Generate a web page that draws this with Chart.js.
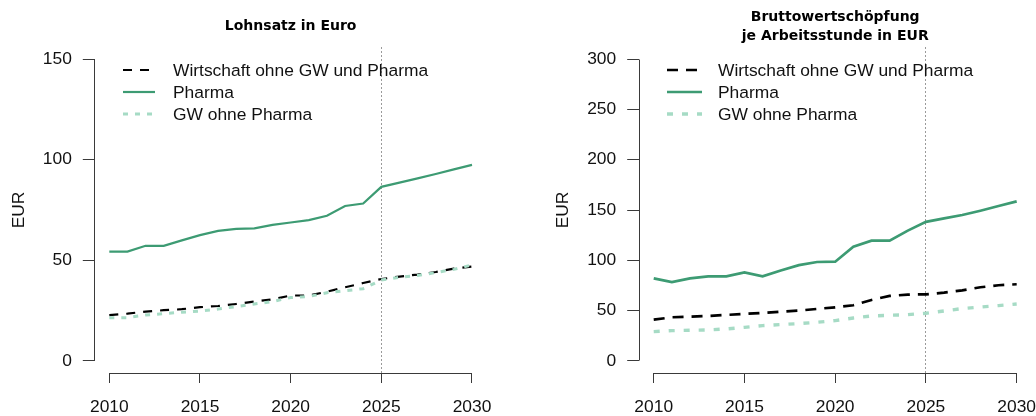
<!DOCTYPE html>
<html><head><meta charset="utf-8">
<script src="https://cdn.jsdelivr.net/npm/chart.js@4.4.1/dist/chart.umd.min.js"></script>
<style>
html,body{margin:0;padding:0;background:#fff;}
#wrap{position:relative;width:1036px;height:416px;overflow:hidden;}
.c{position:absolute;top:0;width:518px;height:416px;}
</style></head><body>
<div id="wrap">
<div class="c" style="left:0"><canvas id="c1"></canvas></div>
<div class="c" style="left:518px"><canvas id="c2"></canvas></div>
</div>
<script>
// ---- data ----
const years = [2010,2011,2012,2013,2014,2015,2016,2017,2018,2019,2020,2021,2022,2023,2024,2025,2026,2027,2028,2029,2030];
const xTicks = [2010,2015,2020,2025,2030];
const seriesLabels = ['Wirtschaft ohne GW und Pharma','Pharma','GW ohne Pharma'];
const projectionYear = 2025;
const yAxisTitle = 'EUR';

const lohnTitle = ['Lohnsatz in Euro'];
const lohnYTicks = [0,50,100,150];
const lohnWirtschaft = [22.8,23.5,24.5,25.2,25.7,26.7,27.3,28.3,29.5,30.6,32.5,32.5,34.4,36.6,38.7,40.7,41.9,42.9,44.2,45.9,46.9];
const lohnPharma     = [54.3,54.3,57.2,57.2,59.9,62.5,64.6,65.6,65.9,67.6,68.8,70.0,72.1,77.0,78.2,86.5,88.6,90.7,92.9,95.2,97.4];
const lohnGW         = [21.5,21.5,22.8,23.5,24.2,24.8,25.8,27.0,28.3,29.5,31.5,32.0,33.9,34.9,35.9,40.2,41.6,42.5,43.9,45.5,47.7];

const bwsTitle = ['Bruttowertschöpfung','je Arbeitsstunde in EUR'];
const bwsYTicks = [0,50,100,150,200,250,300];
const bwsWirtschaft = [41.0,43.4,44.0,44.7,45.7,46.7,47.7,49.0,50.0,51.7,53.3,55.3,60.6,64.6,65.9,66.2,67.9,70.2,73.2,75.2,76.2];
const bwsPharma     = [82.1,78.3,82.0,84.1,84.1,87.9,84.0,89.9,95.2,98.3,98.6,113.5,119.5,119.5,129.5,138.2,141.7,145.0,149.3,154.0,158.6];
const bwsGW         = [29.1,30.1,30.5,30.8,31.8,33.4,35.1,36.1,37.1,38.4,40.1,42.7,44.7,45.4,46.0,47.4,49.7,52.0,53.6,55.0,56.6];

// ---- styles ----
const pharmaColor = '#3d9b73';
const gwColor = '#a6dbc5';
const textColor = '#111111';
const labelFont = {family:'Liberation Sans, Arial, sans-serif', size:17.4};

function alignPx(p){ return Math.round(p - 0.5) + 0.5; }

const rPlugin = {
  id: 'rPlugin',
  beforeDatasetsDraw(chart) {
    const {ctx, chartArea:a, scales:{x}} = chart;
    const px = alignPx(x.getPixelForValue(projectionYear));
    ctx.save();
    ctx.strokeStyle = '#9a9a9a'; ctx.lineWidth = 1; ctx.setLineDash([2,2]);
    ctx.beginPath(); ctx.moveTo(px, a.top); ctx.lineTo(px, a.bottom); ctx.stroke();
    ctx.restore();
  },
  afterDraw(chart) {
    const {ctx, chartArea:a, scales:{x,y}} = chart;
    const o = chart.options.plugins.rPlugin;
    ctx.save();
    ctx.strokeStyle = '#3a3a3a'; ctx.lineWidth = 1; ctx.setLineDash([]);
    // y axis line
    const yt = o.yTicks;
    const ax = alignPx(a.left);
    ctx.beginPath();
    ctx.moveTo(ax, alignPx(y.getPixelForValue(yt[0])));
    ctx.lineTo(ax, alignPx(y.getPixelForValue(yt[yt.length-1])));
    ctx.stroke();
    // x axis line
    const ay = alignPx(a.bottom);
    ctx.beginPath();
    ctx.moveTo(alignPx(x.getPixelForValue(xTicks[0])), ay);
    ctx.lineTo(alignPx(x.getPixelForValue(xTicks[xTicks.length-1])), ay);
    ctx.stroke();
    // legend
    ctx.font = labelFont.size + 'px ' + labelFont.family;
    ctx.textBaseline = 'middle'; ctx.textAlign = 'left';
    chart.data.datasets.forEach((ds, i) => {
      const ry = o.legendRows[i];
      ctx.save();
      ctx.strokeStyle = ds.borderColor; ctx.lineWidth = ds.borderWidth;
      ctx.setLineDash(ds.borderDash || []);
      ctx.beginPath(); ctx.moveTo(o.legendX0, ry); ctx.lineTo(o.legendX1, ry); ctx.stroke();
      ctx.restore();
      ctx.fillStyle = textColor;
      ctx.fillText(ds.label, o.legendText, ry + 1);
    });
    ctx.restore();
  }
};

function pts(arr){ return years.map((yr,i)=>({x:yr, y:arr[i]})); }

function buildChart(id, c) {
  return new Chart(document.getElementById(id), {
    type: 'line',
    data: { datasets: [
      {label: seriesLabels[0], data: pts(c.wirt), borderColor:'#000', borderWidth:c.lw, borderDash:c.dashW, order:3, pointRadius:0, tension:0},
      {label: seriesLabels[1], data: pts(c.pharma), borderColor:pharmaColor, borderWidth:c.lw, order:2, pointRadius:0, tension:0},
      {label: seriesLabels[2], data: pts(c.gw), borderColor:gwColor, borderWidth:c.lwG, borderDash:c.dashG, order:1, pointRadius:0, tension:0}
    ]},
    options: {
      responsive:true, maintainAspectRatio:false, animation:false, devicePixelRatio:1,
      layout:{padding:{left:0, right:c.padRight, top:0, bottom:0}},
      plugins:{
        legend:{display:false}, tooltip:{enabled:false},
        title:{display:true, text:c.title, fullSize:false, color:'#000',
          font:{family:'DejaVu Sans, Verdana, sans-serif', weight:'bold', size:14, lineHeight:c.titleLH},
          padding:{top:c.titlePadTop, bottom:c.titlePadBottom}},
        rPlugin:{yTicks:c.yTicks, legendX0:c.legX0, legendX1:c.legX1, legendText:c.legText, legendRows:[70,92,114]}
      },
      scales:{
        x:{type:'linear', min:2009.2, max:2030.8,
          afterBuildTicks:s=>{ s.ticks = xTicks.map(v=>({value:v})); },
          afterFit:s=>{ s.height = 43; s.paddingLeft = 0; s.paddingRight = 0; s.paddingTop = 0; s.paddingBottom = 0; },
          grid:{drawOnChartArea:false, drawTicks:true, tickLength:10, color:'#3a3a3a'},
          border:{display:false},
          ticks:{callback:v=>String(v), font:labelFont, color:textColor, padding:13.5, maxRotation:0, autoSkip:false}},
        y:{type:'linear', min:c.yMin, max:c.yMax,
          afterBuildTicks:s=>{ s.ticks = c.yTicks.map(v=>({value:v})); },
          afterFit:s=>{ s.width = c.yWidth; s.paddingLeft = 0; s.paddingRight = 0; s.paddingTop = 0; s.paddingBottom = 0; },
          grid:{drawOnChartArea:false, drawTicks:true, tickLength:12, color:'#3a3a3a'},
          border:{display:false},
          title:{display:true, text:yAxisTitle, font:labelFont, color:textColor, padding:{top:c.yTitlePad, bottom:0}},
          ticks:{callback:v=>String(v), font:labelFont, color:textColor, padding:11, autoSkip:false}}
      }
    },
    plugins:[rPlugin]
  });
}

buildChart('c1', {
  wirt:lohnWirtschaft, pharma:lohnPharma, gw:lohnGW, yTicks:lohnYTicks,
  yMin:-6, yMax:156, title:lohnTitle, titleLH:1.2, titlePadTop:17.6, titlePadBottom:12.6,
  lw:2.2, lwG:3, dashW:[9,8], dashG:[5,7], padRight:31.5, yWidth:94.8, yTitlePad:8.4,
  legX0:123, legX1:155, legText:173
});
buildChart('c2', {
  wirt:bwsWirtschaft, pharma:bwsPharma, gw:bwsGW, yTicks:bwsYTicks,
  yMin:-12, yMax:312, title:bwsTitle, titleLH:19/14, titlePadTop:7.5, titlePadBottom:1.5,
  lw:2.7, lwG:3.4, dashW:[11,8], dashG:[6,9], padRight:4.8, yWidth:121.2, yTitlePad:34.6,
  legX0:149, legX1:184, legText:200
});
</script>
</body></html>
